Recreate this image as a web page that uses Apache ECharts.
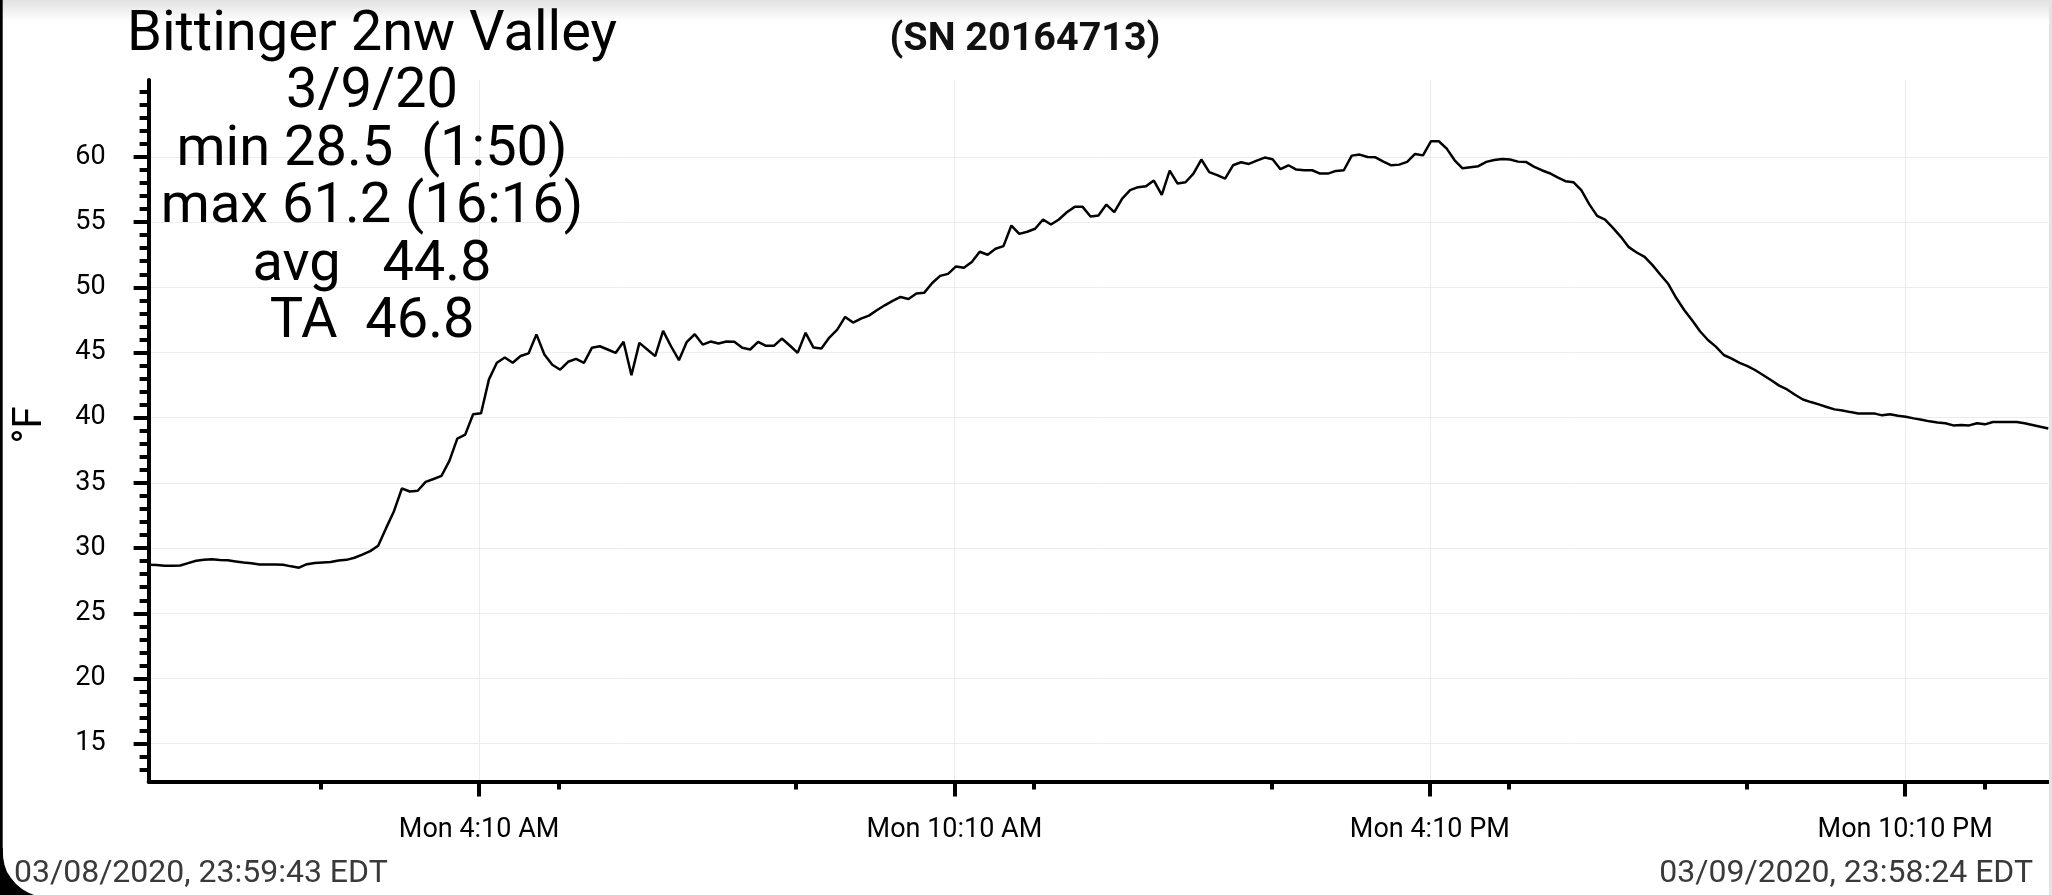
<!DOCTYPE html>
<html><head><meta charset="utf-8">
<script src="https://cdn.jsdelivr.net/npm/echarts@6/dist/echarts.min.js"></script>
<style>html,body{margin:0;padding:0;background:#fff;}#c{width:2052px;height:895px;}</style>
</head><body><div id="c"></div>
<script>
// time in hours from 03/09/2020 00:00 (start 03/08 23:59:43, end 03/09 23:58:24)
const START_HOUR = -0.0047;
const END_HOUR = 23.9733;
// temperatures (°F), one reading every ~6 minutes
const TEMPS = [
28.72,28.7,28.65,28.65,28.67,28.85,29.03,29.1,29.15,29.08,
29.06,28.98,28.9,28.83,28.75,28.75,28.75,28.72,28.6,28.5,
28.77,28.85,28.9,28.93,29.05,29.1,29.26,29.5,29.77,30.18,
31.53,32.83,34.57,34.34,34.4,35.08,35.3,35.54,36.69,38.4,
38.7,40.26,40.34,42.94,44.22,44.62,44.22,44.73,44.93,46.39,
44.85,44.06,43.68,44.29,44.51,44.21,45.36,45.48,45.23,44.97,
45.82,43.26,45.74,45.23,44.72,46.66,45.48,44.41,45.82,46.4,
45.61,45.84,45.69,45.84,45.82,45.36,45.23,45.82,45.51,45.51,
46.07,45.54,44.97,46.51,45.38,45.31,46.15,46.76,47.73,47.3,
47.6,47.83,48.24,48.62,48.96,49.26,49.11,49.52,49.59,50.33,
50.88,51.03,51.6,51.5,51.95,52.73,52.5,52.96,53.16,54.74,
54.1,54.26,54.49,55.2,54.82,55.2,55.76,56.17,56.17,55.43,
55.51,56.35,55.76,56.81,57.45,57.68,57.75,58.19,57.09,58.95,
57.96,58.06,58.72,59.8,58.83,58.6,58.34,59.36,59.59,59.46,
59.72,59.95,59.82,59.06,59.36,59.03,58.98,58.98,58.72,58.72,
58.93,58.98,60.1,60.18,60.0,59.97,59.64,59.36,59.41,59.62,
60.23,60.12,61.2,61.2,60.64,59.74,59.13,59.21,59.29,59.62,
59.77,59.85,59.8,59.64,59.62,59.26,58.98,58.75,58.44,58.14,
58.06,57.45,56.38,55.48,55.2,54.56,53.87,53.08,52.67,52.34,
51.7,50.96,50.25,49.18,48.26,47.47,46.63,45.96,45.45,44.81,
44.53,44.2,43.95,43.64,43.26,42.87,42.46,42.17,41.76,41.4,
41.2,41.02,40.82,40.64,40.56,40.43,40.33,40.33,40.33,40.18,
40.26,40.15,40.08,39.95,39.85,39.72,39.64,39.57,39.41,39.44,
39.41,39.57,39.49,39.67,39.67,39.67,39.67,39.57,39.44,39.31,
39.18
];
const X_MAJOR = [4 + 10/60, 10 + 10/60, 16 + 10/60, 22 + 10/60];
const X_LABELS = ['Mon 4:10 AM', 'Mon 10:10 AM', 'Mon 4:10 PM', 'Mon 10:10 PM'];
const X_MINOR = [2, 5, 8, 11, 14, 17, 20, 23].map(h => h + 10/60);
const Y_MIN = 12.1, Y_MAX = 65.9;
const Y_MAJOR = [15, 20, 25, 30, 35, 40, 45, 50, 55, 60];
const Y_MINOR = [13,14,16,17,18,19,21,22,23,24,26,27,28,29,31,32,33,34,36,37,38,39,41,42,43,44,46,47,48,49,51,52,53,54,56,57,58,59,61,62,63,64,65];
const TITLE_LINES = ['Bittinger 2nw Valley', '3/9/20', 'min 28.5  (1:50)', 'max 61.2 (16:16)', 'avg   44.8', 'TA  46.8'];
const SERIAL = '(SN 20164713)';
const UNIT = '°F';
const START_LABEL = '03/08/2020, 23:59:43 EDT';
const END_LABEL = '03/09/2020, 23:58:24 EDT';

const STEP = (END_HOUR - START_HOUR) / (TEMPS.length - 1);
const seriesData = TEMPS.map((v, i) => [START_HOUR + i * STEP, v]);
const FONT = 'Roboto, "Noto Sans", sans-serif';

const chart = echarts.init(document.getElementById('c'), null, {renderer: 'canvas'});
const tickStyle = {color: '#000', width: 4};
chart.setOption({
  animation: false,
  backgroundColor: '#ffffff',
  grid: {left: 148.6, right: 3.7, top: 80, bottom: 113.5, containLabel: false, outerBoundsMode: 'none'},
  xAxis: [{
    type: 'value', min: START_HOUR, max: END_HOUR, position: 'bottom',
    axisLine: {show: true, onZero: false, lineStyle: {color: '#000', width: 4}},
    axisTick: {show: true, customValues: X_MAJOR, length: 15, lineStyle: tickStyle},
    axisLabel: {show: true, customValues: X_MAJOR, margin: 35, fontSize: 27, color: '#000', fontFamily: FONT,
      formatter: v => { const k = X_MAJOR.findIndex(t => Math.abs(t - v) < 1e-6); return k >= 0 ? X_LABELS[k] : ''; }},
    splitLine: {show: true, lineStyle: {color: '#ececec', width: 1}}
  }, {
    type: 'value', min: START_HOUR, max: END_HOUR, position: 'bottom', offset: 0,
    axisLine: {show: false, onZero: false},
    axisTick: {show: true, customValues: X_MINOR, length: 8, lineStyle: tickStyle},
    axisLabel: {show: false}, splitLine: {show: false}
  }],
  yAxis: [{
    type: 'value', min: Y_MIN, max: Y_MAX, position: 'left',
    axisLine: {show: true, onZero: false, lineStyle: {color: '#000', width: 4}},
    axisTick: {show: true, customValues: Y_MAJOR, length: 15, lineStyle: tickStyle},
    axisLabel: {show: true, customValues: Y_MAJOR, margin: 43, fontSize: 27, color: '#000', fontFamily: FONT},
    splitLine: {show: true, lineStyle: {color: '#ececec', width: 1}}
  }, {
    type: 'value', min: Y_MIN, max: Y_MAX, position: 'left', offset: 0,
    axisLine: {show: false, onZero: false},
    axisTick: {show: true, customValues: Y_MINOR, length: 9, lineStyle: tickStyle},
    axisLabel: {show: false}, splitLine: {show: false}
  }],
  series: [{
    type: 'line', xAxisIndex: 0, yAxisIndex: 0, data: seriesData,
    showSymbol: false, symbol: 'none', smooth: false,
    lineStyle: {color: '#000', width: 2.5}, z: 5
  }],
  graphic: [
    {type: 'rect', silent: true, z: -10, shape: {x: 0, y: 0, width: 2052, height: 22},
      style: {fill: new echarts.graphic.LinearGradient(0, 0, 0, 1, [{offset: 0, color: '#e2e2e2'}, {offset: 1, color: '#ffffff'}])}},
    {type: 'rect', silent: true, z: 100, shape: {x: 0, y: 0, width: 2.7, height: 895}, style: {fill: '#000'}},
    {type: 'rect', silent: true, z: 100, shape: {x: 2049, y: 0, width: 3, height: 895}, style: {fill: '#e3e3e3'}},
    {type: 'polygon', silent: true, z: 100, shape: {points: [[0,848],[2.7,848],[3.2,858],[4.5,865],[7,872],[11,878],[16,884],[22,889],[28,892.5],[34,895],[0,895]]}, style: {fill: '#000'}},
    {type: 'text', silent: true, z: 100, x: 372, y: 7, style: {text: TITLE_LINES.join('\n'), fontSize: 56, fontFamily: FONT, fill: '#000', align: 'center', verticalAlign: 'top', lineHeight: 57.5}},
    {type: 'text', silent: true, z: 100, x: 1025, y: 40, style: {text: SERIAL, fontSize: 39.5, fontWeight: 'bold', fontFamily: FONT, fill: '#111', align: 'center', verticalAlign: 'middle'}},
    {type: 'text', silent: true, z: 100, x: 31, y: 425, rotation: Math.PI / 2, style: {text: UNIT, fontSize: 40, fontFamily: FONT, fill: '#000', align: 'center', verticalAlign: 'middle'}},
    {type: 'text', silent: true, z: 100, x: 14, y: 874, style: {text: START_LABEL, fontSize: 32, fontFamily: FONT, fill: '#3a3a3a', align: 'left', verticalAlign: 'middle'}},
    {type: 'text', silent: true, z: 100, x: 2033, y: 874, style: {text: END_LABEL, fontSize: 32, fontFamily: FONT, fill: '#3a3a3a', align: 'right', verticalAlign: 'middle'}}
  ]
});
</script></body></html>
